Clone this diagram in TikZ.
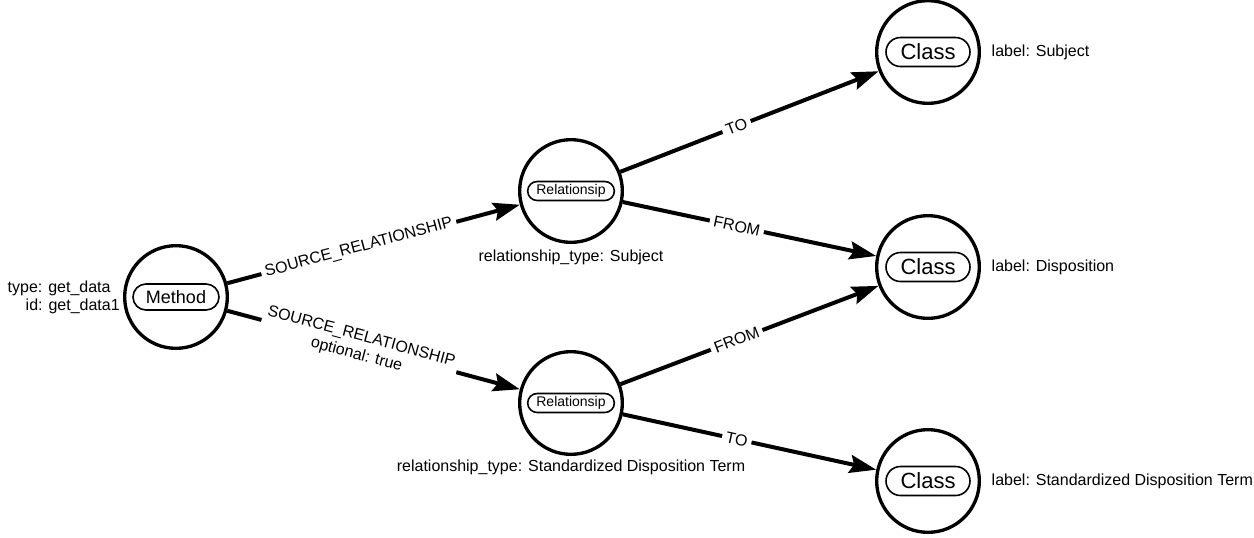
\documentclass[tikz,border=0pt]{standalone}
\usepackage{fontspec}
\setmainfont{Liberation Sans}
\usetikzlibrary{arrows.meta,shapes.misc}

\begin{document}
\begin{tikzpicture}[x=.75pt,y=-.75pt,>={Stealth[length=20pt,width=13.5pt,inset=3pt]},
  every node/.style={font=\fontsize{12}{14}\selectfont},
  ent/.style={circle,draw,line width=2.5pt,minimum size=77pt},
  tag/.style={rounded rectangle,draw,line width=1.2pt,inner sep=0pt},
  rel/.style={->,line width=3pt},
  lbl/.style={sloped,pos=.45,fill=white,inner sep=3pt,align=center}]
\useasboundingbox (0,0) rectangle (1254,537);
\node[ent] (m)  at (176,297) {};
\node[ent] (r1) at (571,191) {};
\node[ent] (r2) at (571,403) {};
\node[ent] (c1) at (928,52)  {};
\node[ent] (c2) at (928,267) {};
\node[ent] (c3) at (928,481) {};
% tags inside the circles
\node[tag,minimum width=64.5pt,minimum height=19.5pt,font=\fontsize{13.5}{16}\selectfont] (mt) at (m) {Method};
\node[tag,minimum width=65pt,minimum height=14.25pt,font=\fontsize{10.5}{12}\selectfont] (r1t) at (r1) {Relationsip};
\node[tag,minimum width=65pt,minimum height=14.25pt,font=\fontsize{10.5}{12}\selectfont] (r2t) at (r2) {Relationsip};
\node[tag,minimum width=63pt,minimum height=21.75pt,font=\fontsize{16.5}{19}\selectfont] (c1t) at (c1) {Class};
\node[tag,minimum width=63pt,minimum height=21.75pt,font=\fontsize{16.5}{19}\selectfont] (c2t) at (c2) {Class};
\node[tag,minimum width=63pt,minimum height=21.75pt,font=\fontsize{16.5}{19}\selectfont] (c3t) at (c3) {Class};
% properties
\node[anchor=west] (mp1) at (3,288) {type: get\_data};
\node[anchor=west] (mp2) at (21,306) {id: get\_data1};
\node (r1p) at (571,257) {relationship\_type: Subject};
\node (r2p) at (571,467) {relationship\_type: Standardized Disposition Term};
\node[anchor=west] (c1p) at (987,52)  {label: Subject};
\node[anchor=west] (c2p) at (987,267) {label: Disposition};
\node[anchor=west] (c3p) at (987,481) {label: Standardized Disposition Term};
% relationships
\draw[rel] (m) -- node[lbl] {SOURCE\_RELATIONSHIP} (r1);
\draw[rel] (m) -- node[lbl] {SOURCE\_RELATIONSHIP\\optional: true} (r2);
\draw[rel] (r1) -- node[lbl] {TO} (c1);
\draw[rel] (r1) -- node[lbl] {FROM} (c2);
\draw[rel] (r2) -- node[lbl] {FROM} (c2);
\draw[rel] (r2) -- node[lbl] {TO} (c3);
\end{tikzpicture}
\end{document}
